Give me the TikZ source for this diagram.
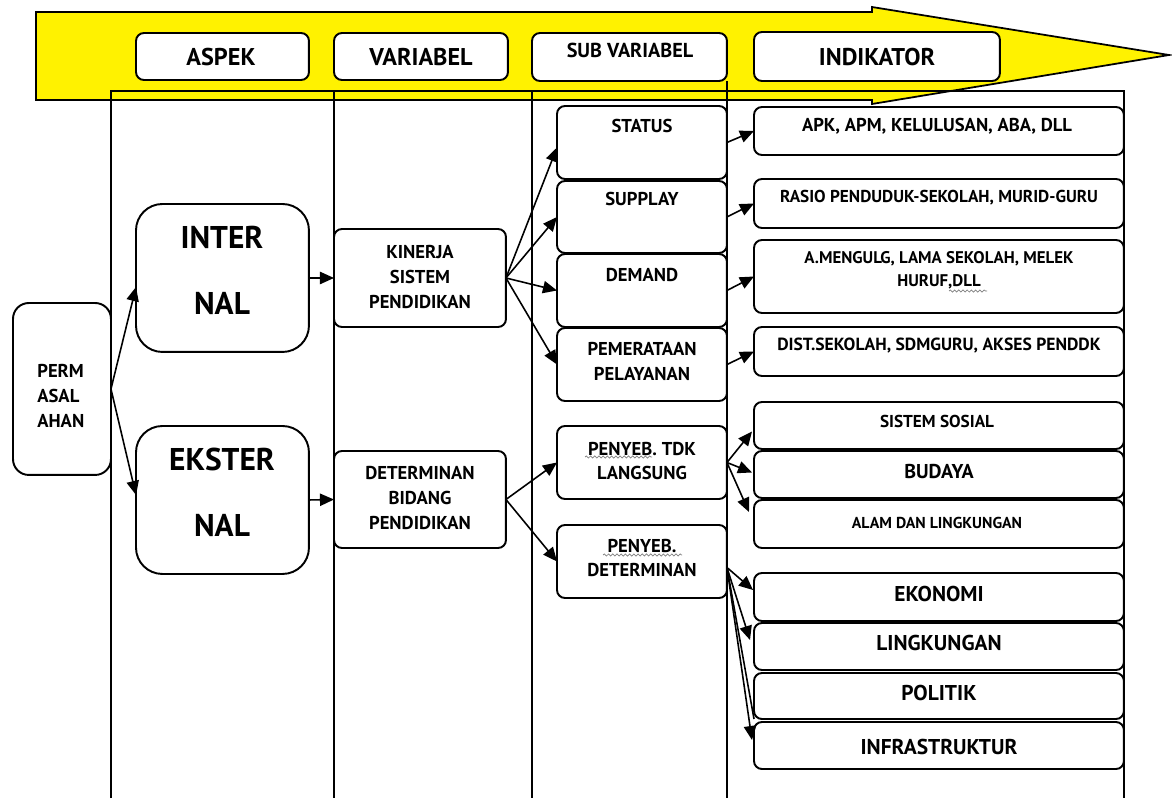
\documentclass[tikz,border=0pt]{standalone}
\usepackage{fontspec}
\setmainfont{PT Sans}
\usetikzlibrary{calc,arrows.meta,decorations.pathmorphing}
\newcommand\bx[6][]{\node[box,#1,anchor=north west,minimum width={(#5-#3)*0.569pt},minimum height={(#6-#4)*0.569pt}] (#2) at (#3,#4) {};}
\newcommand\tx[5][]{\node[txt,#1] (#2) at (#3,#4) {#5};}
\begin{document}
\begin{tikzpicture}[x=0.02cm,y=-0.02cm,
  box/.style={draw,line width=1.1pt,fill=white,rounded corners=4.5pt,inner sep=0pt,outer sep=0pt},
  big/.style={rounded corners=15pt},
  permbox/.style={rounded corners=9pt},
  txt/.style={font=\bfseries,align=center,inner sep=0pt},
  fa/.style={font=\bfseries\fontsize{13.8}{16}\selectfont},
  fb/.style={font=\bfseries\fontsize{17.9}{20}\selectfont},
  fc/.style={font=\bfseries\fontsize{10.6}{14.2}\selectfont},
  fd/.style={font=\bfseries\fontsize{9.8}{13}\selectfont},
  fe/.style={font=\bfseries\fontsize{12.2}{14}\selectfont},
  ff/.style={font=\bfseries\fontsize{11.4}{14}\selectfont},
  fg/.style={font=\bfseries\fontsize{9}{12}\selectfont},
  fh/.style={font=\bfseries\fontsize{11.5}{14}\selectfont},
  frame/.style={line width=0.8pt},
  arr/.style={-{Triangle[length=8pt,width=7pt]},line width=0.9pt},
  squig/.style={gray,line width=0.4pt,decorate,decoration={snake,amplitude=0.6pt,segment length=2.4pt}}
]
\useasboundingbox (0,0) rectangle (1172,798);
% yellow arrow
\draw[line width=1pt,fill=yellow] (36,12) -- (872,12) -- (872,7) -- (1169,55) -- (872,104) -- (872,100) -- (36,100) -- cycle;
% frame
\draw[frame] (111,798) -- (111,91) -- (1124,91) -- (1124,798);
\draw[frame] (334,91) -- (334,798);
\draw[frame] (532,91) -- (532,798);
\draw[line width=1.3pt] (727,81) -- (727,798);
% header boxes
\bx{haspek}{136}{33}{309}{80}
\bx{hvariabel}{334}{33}{508}{80}
\bx{hsub}{532}{33}{727}{81}
\bx{hindikator}{754}{32}{1000}{81}
\tx[fa]{taspek}{221}{57}{ASPEK}
\tx[fa]{tvariabel}{421}{57}{VARIABEL}
\tx[fh]{tsub}{630}{50}{SUB VARIABEL}
\tx[fa]{tindikator}{877}{57}{INDIKATOR}
% boxes
\bx[permbox]{perm}{13}{303}{111}{475}
\bx[big]{inter}{136}{204}{309}{352}
\bx[big]{ekster}{136}{426}{309}{574}
\bx{kinerja}{334}{229}{506}{327}
\bx{determinan}{334}{451}{506}{548}
\bx{status}{557}{106}{727}{179}
\bx{supplay}{557}{181}{727}{253}
\bx{demand}{557}{254}{727}{327}
\bx{pemerataan}{557}{328}{727}{401}
\bx{penyebtdk}{557}{426}{727}{499}
\bx{penyebdet}{557}{525}{727}{598}
\bx{apk}{754}{107}{1124}{155}
\bx{rasio}{754}{179}{1124}{228}
\bx{amengulg}{754}{240}{1124}{313}
\bx{dist}{754}{327}{1124}{376}
\bx{sosial}{754}{402}{1124}{449}
\bx{budaya}{754}{451}{1124}{498}
\bx{alam}{754}{500}{1124}{548}
\bx{ekonomi}{754}{573}{1124}{621}
\bx{lingkungan}{754}{623}{1124}{670}
\bx{politik}{754}{673}{1124}{719}
\bx{infra}{754}{722}{1124}{769}
% texts
\node[txt,fc,align=left,anchor=west] (tperm) at (37,396) {PERM\\ASAL\\AHAN};
\tx[fb]{tinter}{222}{237}{INTER}
\tx[fb]{tnal}{222}{303}{NAL}
\tx[fb]{tekster}{222}{459}{EKSTER}
\tx[fb]{tnalb}{222}{525}{NAL}
\tx[fc]{tkinerja}{420}{277}{KINERJA\\SISTEM\\PENDIDIKAN}
\tx[fc]{tdeterminan}{420}{498}{DETERMINAN\\BIDANG\\PENDIDIKAN}
\tx[fc]{tstatus}{642}{126}{STATUS}
\tx[fc]{tsupplay}{642}{199}{SUPPLAY}
\tx[fc]{tdemand}{642}{275}{DEMAND}
\tx[fc]{tpemerataan}{642}{361}{PEMERATAAN\\PELAYANAN}
\tx[fc]{tpenyebtdk}{642}{461}{PENYEB. TDK\\LANGSUNG}
\tx[fc]{tpenyebdet}{642}{558}{PENYEB.\\DETERMINAN}
\tx[fc]{tapk}{937}{126}{APK, APM, KELULUSAN, ABA, DLL}
\tx[fd]{trasio}{939}{198}{RASIO PENDUDUK-SEKOLAH, MURID-GURU}
\node[txt,font=\bfseries\fontsize{9.6}{13}\selectfont] (tamengulg) at (939,270) {A.MENGULG, LAMA SEKOLAH, MELEK\\HURUF,DLL};
\node[txt,font=\bfseries\fontsize{10}{13}\selectfont] (tdist) at (939,346) {DIST.SEKOLAH, SDMGURU, AKSES PENDDK};
\tx[fd]{tsosial}{937}{421}{SISTEM SOSIAL}
\tx[ff]{tbudaya}{939}{471}{BUDAYA}
\tx[fg]{talam}{937}{523}{ALAM DAN LINGKUNGAN}
\tx[fe]{tekonomi}{939}{594}{EKONOMI}
\tx[fe]{tlingkungan}{939}{643}{LINGKUNGAN}
\tx[fe]{tpolitik}{939}{693}{POLITIK}
\tx[fe]{tinfra}{939}{747}{INFRASTRUKTUR}
% squiggles
\draw[squig] (585,457) -- (652,457);
\draw[squig] (603,555) -- (682,555);
\draw[squig] (949,291) -- (987,291);
% connectors
\draw[arr] (perm.east) -- ($(inter.west)+(0,9)$);
\draw[arr] (perm.east) -- ($(ekster.west)+(0,-5)$);
\draw[arr] (inter.east) -- (kinerja.west);
\draw[arr] (ekster.east) -- (determinan.west);
\draw[arr] (kinerja.east) -- ($(status.west)+(0,5)$);
\draw[arr] (kinerja.east) -- (supplay.west);
\draw[arr] (kinerja.east) -- (demand.west);
\draw[arr] (kinerja.east) -- (pemerataan.west);
\draw[arr] (status.east) -- (apk.west);
\draw[arr] (supplay.east) -- (rasio.west);
\draw[arr] (demand.east) -- (amengulg.west);
\draw[arr] (pemerataan.east) -- (dist.west);
\draw[arr] (determinan.east) -- (penyebtdk.west);
\draw[arr] (determinan.east) -- (penyebdet.west);
\draw[arr] (penyebtdk.east) -- ($(sosial.west)+(-2,6)$);
\draw[arr] (penyebtdk.east) -- ($(budaya.west)+(-2,-2)$);
\draw[arr] (penyebtdk.east) -- ($(alam.north west)+(-5,12)$);
\draw[arr] ($(penyebdet.east)+(0,6)$) -- ($(ekonomi.west)+(-1,-7)$);
\draw[arr] ($(penyebdet.east)+(0,6)$) -- ($(lingkungan.north west)+(-4,17)$);
\draw[line width=0.9pt] ($(penyebdet.east)+(0,6)$) -- (politik.south west);
\draw[arr] ($(penyebdet.east)+(0,6)$) -- ($(infra.north west)+(-2,18)$);
\end{tikzpicture}
\end{document}
